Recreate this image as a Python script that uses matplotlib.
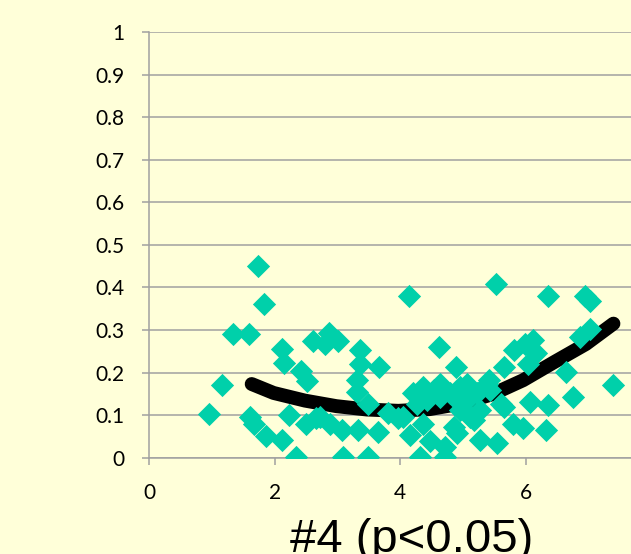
import matplotlib.pyplot as plt

# scatter points
x_vals = [0.95, 1.15, 1.33, 1.58, 1.73, 1.82, 1.60, 1.66, 1.86, 2.11, 2.34, 2.12, 2.15, 2.42, 2.51,
          2.23, 2.50, 2.66, 2.61, 2.87, 2.80, 3.00, 3.36, 3.36, 3.66, 3.31, 3.31, 3.49, 2.72, 2.88,
          3.07, 3.33, 3.64, 3.80, 3.96, 3.09, 3.49, 4.14,
          4.15, 4.05, 4.21, 4.26, 4.37, 4.53, 4.63, 4.42, 4.63, 4.79, 4.95, 5.06, 4.90, 5.06, 5.22,
          5.38, 5.27, 5.11, 4.95, 4.62, 4.89, 5.43, 5.41, 5.60, 5.53, 4.37, 4.47, 4.85, 4.90, 4.71,
          4.31, 4.71, 5.27, 5.54, 5.17,
          5.65, 5.81, 5.99, 6.12, 6.17, 6.04, 6.36, 6.95, 7.03, 7.03, 6.87, 6.65, 7.40, 6.76, 6.07,
          6.36, 5.65, 5.80, 5.96, 6.33]
y_vals = [0.102, 0.170, 0.291, 0.291, 0.451, 0.360, 0.096, 0.080, 0.051, 0.042, 0.002, 0.255, 0.223, 0.204, 0.180,
          0.100, 0.080, 0.092, 0.273, 0.293, 0.268, 0.273, 0.252, 0.221, 0.212, 0.182, 0.155, 0.127, 0.096, 0.080,
          0.065, 0.065, 0.061, 0.104, 0.092, 0.002, 0.002, 0.381,
          0.053, 0.096, 0.151, 0.127, 0.166, 0.159, 0.174, 0.135, 0.143, 0.151, 0.166, 0.174, 0.135, 0.135, 0.151,
          0.174, 0.112, 0.096, 0.112, 0.260, 0.213, 0.159, 0.182, 0.127, 0.408, 0.080, 0.038, 0.073, 0.057, 0.026,
          0.002, 0.002, 0.041, 0.034, 0.088,
          0.213, 0.252, 0.268, 0.276, 0.245, 0.221, 0.381, 0.381, 0.369, 0.303, 0.283, 0.201, 0.170, 0.143, 0.131,
          0.123, 0.119, 0.080, 0.069, 0.065]

# trend line
trend_x = [1.63, 1.98, 2.48, 2.98, 3.47, 3.97, 4.47, 4.97, 5.47, 5.96, 6.46, 6.96, 7.40]
trend_y = [0.173, 0.152, 0.134, 0.121, 0.113, 0.110, 0.114, 0.127, 0.149, 0.182, 0.225, 0.267, 0.315]

y_ticks = [0, 0.1, 0.2, 0.3, 0.4, 0.5, 0.6, 0.7, 0.8, 0.9, 1]
y_labels = ["0", "0.1", "0.2", "0.3", "0.4", "0.5", "0.6", "0.7", "0.8", "0.9", "1"]
x_ticks = [0, 2, 4, 6]
title = "#4 (p<0.05)"

bg = "#FFFFD9"
grey = "#A0A0A0"

fig = plt.figure(figsize=(6.31, 5.54), dpi=100, facecolor=bg)
ax = fig.add_axes([0.2369, 0.174, 0.7631, 0.7677], facecolor=bg)

ax.plot(trend_x, trend_y, color="black", linewidth=10, solid_capstyle="round", zorder=2)
ax.scatter(x_vals, y_vals, marker="D", s=140, color="#00D0AA", linewidths=0, zorder=3)

ax.set_xlim(0, 7.68)
ax.set_ylim(0, 1)
ax.set_yticks(y_ticks)
ax.set_yticklabels(y_labels)
ax.set_xticks(x_ticks)
ax.yaxis.grid(True, color=grey, linewidth=1.1)
ax.set_axisbelow(True)

for s in ["top", "right"]:
    ax.spines[s].set_visible(False)
for s in ["left", "bottom"]:
    ax.spines[s].set_color(grey)
    ax.spines[s].set_linewidth(1.1)

ax.tick_params(axis="both", direction="out", length=5, width=1.1, color=grey,
               labelsize=15, pad=13)
for lab in ax.get_xticklabels() + ax.get_yticklabels():
    lab.set_fontfamily("Lato")

fig.text(0.652, 0.004, title, fontsize=34, family="Liberation Sans",
         ha="center", va="baseline")

fig.savefig("out.png", dpi=100, facecolor=bg)
